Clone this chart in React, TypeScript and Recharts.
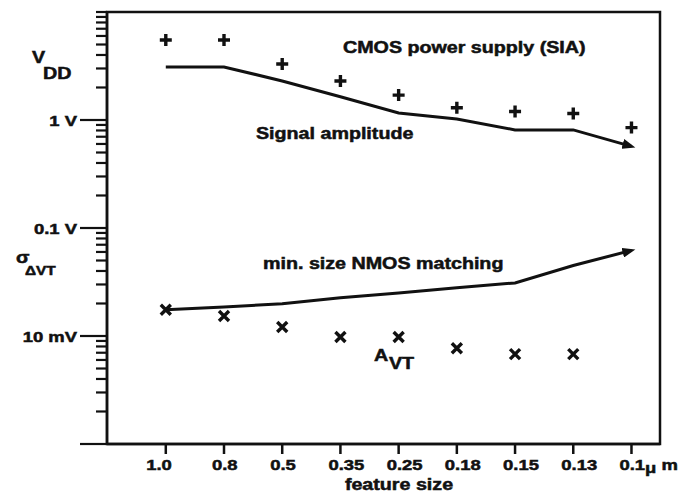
import React from "react";
import {
	ComposedChart,
	Line,
	XAxis,
	YAxis,
	ReferenceArea,
} from "recharts";

// feature size categories (um) and values in volts
const features = ["1.0", "0.8", "0.5", "0.35", "0.25", "0.18", "0.15", "0.13", "0.1"];
const supplyVolts = [5.5, 5.5, 3.3, 2.3, 1.7, 1.3, 1.2, 1.15, 0.85];
const signalVolts = [3.1, 3.1, 2.3, 1.64, 1.16, 1.02, 0.81, 0.81, 0.57];
const matchingVolts = [0.0175, 0.0186, 0.0199, 0.0226, 0.025, 0.028, 0.031, 0.045, 0.062];
const avtVolts = [0.0175, 0.0153, 0.0121, 0.0098, 0.0098, 0.0077, 0.0068, 0.0068, null];

const yMajorTicks = [0.001, 0.01, 0.1, 1, 10];
const yMajorLabels = ["", "10 mV", "0.1 V", "1 V", ""];
const yMinorSteps = [2, 3, 4, 5, 6, 7, 8, 9];

const INK = "#111";
const FONT = "'Liberation Sans', Arial, Helvetica, sans-serif";
const SX = 1.23;

const yTicks = [
	...yMajorTicks,
	...yMajorTicks.slice(0, -1).flatMap((m) => yMinorSteps.map((s) => m * s)),
].sort((a, b) => a - b);

function Wide({ x, y, size = 16, anchor = "start", children }: any) {
	return (
		<text
			transform={`translate(${x},${y}) scale(${SX},1)`}
			textAnchor={anchor}
			fontFamily={FONT}
			fontWeight='bold'
			fontSize={size}
			fill={INK}
			stroke={INK}
			strokeWidth={0.5}
		>
			{children}
		</text>
	);
}

function YTick({ x, y, payload }: any) {
	const v = payload.value;
	const k = yMajorTicks.findIndex((m) => Math.abs(Math.log10(v) - Math.log10(m)) < 1e-6);
	const major = k >= 0 && k < yMajorTicks.length - 1;
	const len = major ? 27 : 11;
	return (
		<g>
			<line x1={x - len} y1={y} x2={x} y2={y} stroke={INK} strokeWidth={2.2} />
			{k >= 0 && yMajorLabels[k] ? (
				<Wide x={x - 30} y={y + 5.5} size={15} anchor='end'>
					{yMajorLabels[k]}
				</Wide>
			) : null}
		</g>
	);
}

function XTick({ x, y, payload }: any) {
	const label = features[payload.value];
	if (payload.value === features.length - 1) {
		return (
			<Wide x={x - 12} y={y + 10.5} size={15}>
				{label}
				<tspan dy={3}>μ</tspan>
				<tspan dy={-3}> m</tspan>
			</Wide>
		);
	}
	// labels in the original hang a little right of their tick, except 1.0
	if (!label.startsWith("0")) {
		return (
			<Wide x={x + 6} y={y + 10.5} size={15} anchor='end'>
				{label}
			</Wide>
		);
	}
	return (
		<Wide x={x - 12} y={y + 10.5} size={15}>
			{label}
		</Wide>
	);
}

const plusDot = (p: any) => {
	const { cx, cy, index } = p;
	if (cx == null || cy == null || p.value == null) return <g key={`p${index}`} />;
	return (
		<path
			key={`p${index}`}
			d={`M${cx - 6},${cy}H${cx + 6}M${cx},${cy - 6}V${cy + 6}`}
			stroke={INK}
			strokeWidth={3.4}
		/>
	);
};

const crossDot = (p: any) => {
	const { cx, cy, index } = p;
	if (cx == null || cy == null || p.value == null) return <g key={`x${index}`} />;
	return (
		<path
			key={`x${index}`}
			d={`M${cx - 5},${cy - 5}L${cx + 5},${cy + 5}M${cx - 5},${cy + 5}L${cx + 5},${cy - 5}`}
			stroke={INK}
			strokeWidth={3.4}
		/>
	);
};

export default function App() {
	const rows = features.map((f, i) => ({
		idx: i,
		supply: supplyVolts[i],
		signal: signalVolts[i],
		matching: matchingVolts[i],
		avt: avtVolts[i],
	}));

	return (
		<div
			style={{
				position: "absolute",
				left: 0,
				top: 0,
				width: 688,
				height: 494,
				background: "#fff",
			}}
		>
			<svg width={0} height={0} style={{ position: "absolute" }}>
				<defs>
					<marker
						id='arrowHead'
						markerUnits='userSpaceOnUse'
						markerWidth={14}
						markerHeight={10}
						refX={9}
						refY={5}
						orient='auto'
					>
						<path d='M0,0 L13,5 L0,10 z' fill={INK} />
					</marker>
				</defs>
			</svg>
			<ComposedChart
				width={688}
				height={494}
				data={rows}
				margin={{ top: 12, right: 28, bottom: 0, left: 7 }}
			>
				<XAxis
					dataKey='idx'
					type='number'
					domain={[-1.01, 8.49]}
					ticks={features.map((_, i) => i)}
					allowDataOverflow
					height={50}
					axisLine={{ stroke: INK, strokeWidth: 2.5 }}
					tickLine={{ stroke: INK, strokeWidth: 2.5 }}
					tickSize={10}
					tickMargin={5}
					tick={<XTick />}
					interval={0}
				/>
				<YAxis
					type='number'
					scale='log'
					domain={[0.001, 10]}
					ticks={yTicks}
					allowDataOverflow
					width={100}
					axisLine={{ stroke: INK, strokeWidth: 2.5 }}
					tickLine={false}
					tickSize={0}
					tickMargin={0}
					tick={<YTick />}
					interval={0}
				/>
				<ReferenceArea
					x1={-1.01}
					x2={8.49}
					y1={0.001}
					y2={10}
					fill='none'
					stroke={INK}
					strokeWidth={2.5}
					ifOverflow='visible'
				/>
				<Line
					dataKey='signal'
					type='linear'
					stroke={INK}
					strokeWidth={3}
					dot={false}
					activeDot={false}
					markerEnd='url(#arrowHead)'
					isAnimationActive={false}
				/>
				<Line
					dataKey='matching'
					type='linear'
					stroke={INK}
					strokeWidth={3}
					dot={false}
					activeDot={false}
					markerEnd='url(#arrowHead)'
					isAnimationActive={false}
				/>
				<Line
					dataKey='supply'
					stroke='none'
					dot={plusDot}
					activeDot={false}
					isAnimationActive={false}
				/>
				<Line
					dataKey='avt'
					stroke='none'
					dot={crossDot}
					activeDot={false}
					isAnimationActive={false}
				/>
			</ComposedChart>
			<svg
				width={688}
				height={494}
				style={{ position: "absolute", left: 0, top: 0, pointerEvents: "none" }}
			>
				<Wide x={32} y={63}>V</Wide>
				<Wide x={43} y={79}>DD</Wide>
				<Wide x={16} y={263}>σ</Wide>
				<Wide x={25} y={275} size={12.5}>ΔVT</Wide>
				<Wide x={343} y={53}>CMOS power supply (SIA)</Wide>
				<Wide x={256} y={139}>Signal amplitude</Wide>
				<Wide x={263} y={269}>min. size NMOS matching</Wide>
				<Wide x={374} y={361}>A</Wide>
				<Wide x={389} y={369}>VT</Wide>
				<Wide x={399} y={490} anchor='middle'>feature size</Wide>
			</svg>
		</div>
	);
}
